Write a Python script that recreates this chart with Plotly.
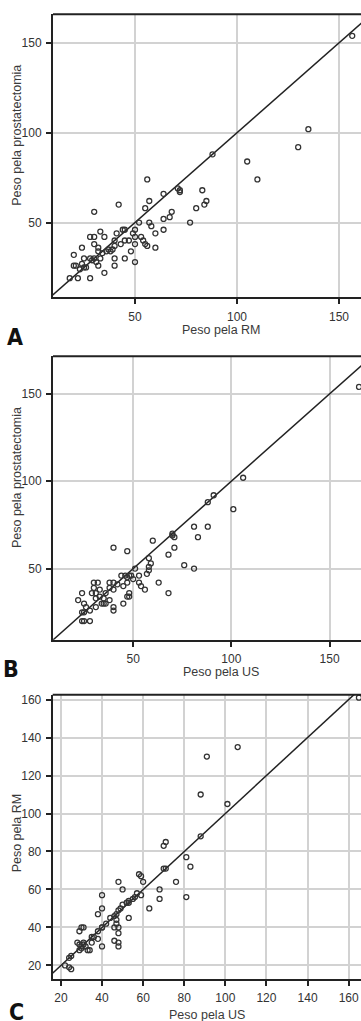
import plotly.graph_objects as go

# ---------------- data ----------------
# Panel A: Peso pela RM (x) vs Peso pela prostatectomia (y)
a_rm = [156.5, 135, 130, 105, 110, 88, 56, 42, 30, 57, 55, 64, 71, 72, 72, 68, 67, 64, 64, 77,
        80, 83, 84, 85, 57, 58, 60, 60, 52, 50, 49, 50, 50, 48, 50, 45, 44, 45, 47, 53,
        54, 55, 56, 41, 40, 40, 39, 38, 40, 40, 45, 33, 35, 32, 37, 36, 30, 28, 30, 32,
        30, 31, 32, 28, 29, 24, 25, 24, 25, 23, 20, 20, 21, 26, 35, 22, 18, 28, 33, 34, 43]
a_pros = [154, 102, 92, 84, 74, 88, 74, 60, 56, 62, 58, 66, 69, 68, 67, 56, 53, 52, 46, 50,
          58, 68, 60, 62, 50, 48, 44, 36, 50, 46, 44, 42, 38, 34, 28, 46, 46, 40, 40, 42,
          40, 38, 37, 44, 40, 37, 35, 34, 30, 26, 30, 45, 42, 36, 35, 34, 42, 42, 38, 34,
          30, 28, 26, 30, 29, 36, 30, 27, 25, 24, 32, 26, 26, 25, 22, 19, 19, 19, 30, 33, 38]

# Panel B: Peso pela US (x) vs Peso pela prostatectomia (y)
b_us = [165, 106, 101, 91, 88, 88, 81, 83, 70, 70, 71, 71, 68, 60, 76, 81, 68, 63, 40, 47,
        58, 59, 58, 58, 51, 48, 49, 47, 44, 46, 53, 50, 47, 45, 53, 54, 56, 48, 47, 48,
        45, 38, 40, 38, 40, 38, 40, 40, 30, 32, 30, 29, 31, 33, 31, 36, 35, 36, 34, 31,
        28, 24, 22, 25, 24, 25, 24, 25, 28, 26, 35, 42, 33, 57]
b_pros = [154, 102, 84, 92, 88, 74, 74, 68, 70, 69, 68, 62, 58, 66, 52, 50, 36, 42, 62, 60,
          56, 53, 51, 49, 50, 46, 46, 45, 46, 46, 46, 44, 42, 40, 42, 40, 38, 36, 34, 34,
          30, 42, 42, 39, 38, 32, 28, 26, 42, 42, 39, 36, 36, 34, 33, 36, 33, 30, 30, 28,
          26, 36, 32, 30, 25, 25, 20, 20, 20, 28, 30, 41, 38, 47]

# Panel C: Peso pela US (x) vs Peso pela RM (y)
c_us = [165, 106, 91, 88, 101, 88, 70, 71, 70, 71, 81, 83, 76, 81, 68, 68, 63, 58, 59, 60,
        59, 57, 56, 55, 53, 52, 50, 49, 48, 47, 46, 44, 48, 50, 40, 40, 38, 53, 47, 47,
        46, 48, 48, 46, 48, 48, 40, 38, 38, 40, 35, 35, 34, 30, 31, 29, 28, 29, 30, 31,
        31, 29, 30, 32, 33, 24, 25, 22, 24, 25, 42, 40, 36, 53]
c_rm = [161, 135, 130, 110, 105, 88, 83, 85, 71, 71, 77, 72, 64, 56, 60, 55, 50, 68, 67, 64,
        57, 58, 56, 55, 54, 53, 52, 50, 49, 47, 46, 45, 64, 60, 57, 50, 47, 45, 44, 42,
        40, 40, 37, 33, 32, 30, 40, 38, 34, 30, 35, 32, 28, 40, 40, 38, 32, 31, 30, 31,
        32, 28, 29, 30, 28, 24, 25, 20, 19, 18, 42, 40, 35, 53]

identity = [0, 200]

ticks_ab = [50, 100, 150]
ticks_c = [20, 40, 60, 80, 100, 120, 140, 160]

panel_letters = ["A", "B", "C"]
x_titles = ["Peso pela RM", "Peso pela US", "Peso pela US"]
y_titles = ["Peso pela prostatectomia", "Peso pela prostatectomia", "Peso pela RM"]

# ---------------- figure ----------------
W, H = 361, 1021
fig = go.Figure()

mk = dict(symbol="circle-open", size=5, color="#333333", line=dict(width=1.3, color="#333333"))
panels = [(a_rm, a_pros, "x", "y"), (b_us, b_pros, "x2", "y2"), (c_us, c_rm, "x3", "y3")]
for xs, ys, xa, ya in panels:
    fig.add_trace(go.Scatter(x=identity, y=identity, mode="lines", xaxis=xa, yaxis=ya,
                             line=dict(color="#222222", width=1.5), hoverinfo="skip"))
    fig.add_trace(go.Scatter(x=xs, y=ys, mode="markers", xaxis=xa, yaxis=ya, marker=mk))

tickfont = dict(family="Liberation Sans, Arial, sans-serif", size=12, color="#333333")
common = dict(showgrid=True, gridcolor="#d2d2d2", gridwidth=1.5, zeroline=False,
              showline=True, linecolor="#222222", linewidth=2, ticks="outside",
              ticklen=5, tickwidth=1.5, tickcolor="#222222", tickfont=tickfont,
              ticklabelstandoff=2)

def ydom(top_px, bot_px):
    return [1 - bot_px / H, 1 - top_px / H]

fig.update_layout(
    width=W, height=H, margin=dict(l=0, r=0, t=0, b=0),
    paper_bgcolor="white", plot_bgcolor="white", showlegend=False,
    xaxis=dict(domain=[53 / W, 1], anchor="y", range=[9.8, 160.8], tickvals=ticks_ab, **common),
    yaxis=dict(domain=ydom(12.3, 296), anchor="x", range=[8.3, 166], tickvals=ticks_ab, **common),
    xaxis2=dict(domain=[53 / W, 1], anchor="y2", range=[9.2, 166], tickvals=ticks_ab, **common),
    yaxis2=dict(domain=ydom(355, 639), anchor="x2", range=[9.3, 171.5], tickvals=ticks_ab, **common),
    xaxis3=dict(domain=[52.7 / W, 1], anchor="y3", range=[16, 166], tickvals=ticks_c, **common),
    yaxis3=dict(domain=ydom(694, 979), anchor="x3", range=[12.8, 162.6], tickvals=ticks_c, **common),
)

# top frame lines
for xa, ya in [("x", "y"), ("x2", "y2"), ("x3", "y3")]:
    fig.add_shape(type="line", xref=f"{xa} domain", yref=f"{ya} domain",
                  x0=0, x1=1, y0=1, y1=1, line=dict(color="#222222", width=2))

titlefont = dict(family="Liberation Sans, Arial, sans-serif", size=12.5, color="#3a3a3a")
xt_pos = [(221, 329), (221, 671), (207, 1015)]
yt_pos = [(17, 134), (17, 477), (17, 833)]
lt_pos = [(15, 336), (11, 668), (16, 1012)]
for i in range(3):
    fig.add_annotation(text=x_titles[i], xref="paper", yref="paper",
                       x=xt_pos[i][0] / W, y=1 - xt_pos[i][1] / H, showarrow=False,
                       xanchor="center", yanchor="middle", font=titlefont)
    fig.add_annotation(text=y_titles[i], xref="paper", yref="paper", textangle=-90,
                       x=yt_pos[i][0] / W, y=1 - yt_pos[i][1] / H, showarrow=False,
                       xanchor="center", yanchor="middle", font=titlefont)
    fig.add_annotation(text="<b>" + panel_letters[i] + "</b>", xref="paper", yref="paper",
                       x=lt_pos[i][0] / W, y=1 - lt_pos[i][1] / H, showarrow=False,
                       xanchor="center", yanchor="middle",
                       font=dict(family="Liberation Sans Narrow, DejaVu Sans Condensed, Arial Narrow, sans-serif",
                                 size=23, color="#111111"))

fig.write_html("out.html", config={"displayModeBar": False},
               post_script="document.body.style.margin='0';document.body.style.overflow='hidden';")
